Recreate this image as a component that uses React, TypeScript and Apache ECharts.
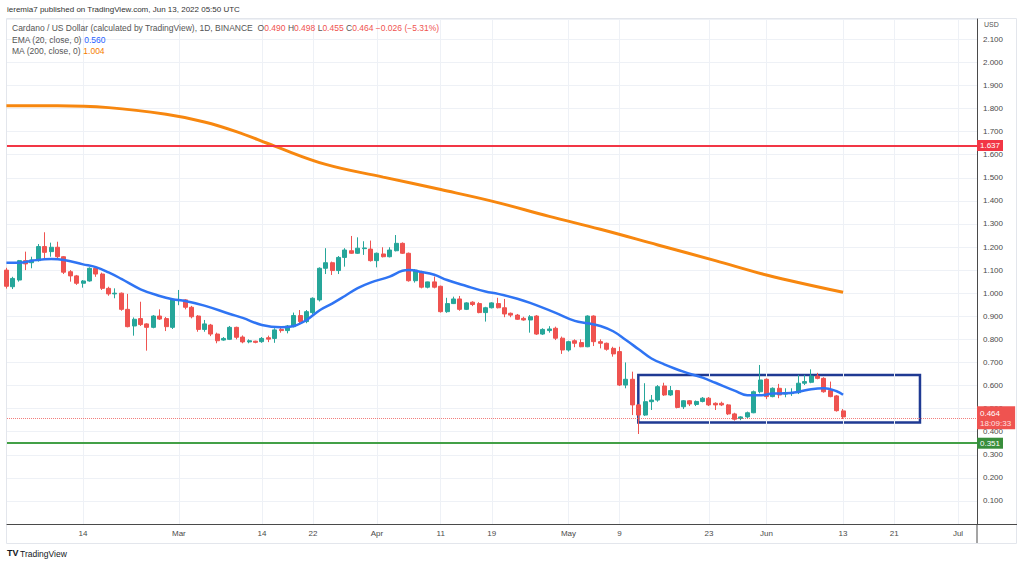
import React, { useEffect, useRef } from 'react';
import * as echarts from 'echarts';

// Day index 0 = 2022-02-02 (daily candles, Cardano / USD)
// Each row: [open, close, low, high]
const candles: number[][] = [
  [1.100, 1.030, 1.020, 1.110], [1.028, 1.064, 1.018, 1.071], [1.057, 1.141, 1.050, 1.144], [1.141, 1.127, 1.100, 1.180],
  [1.132, 1.144, 1.108, 1.158], [1.141, 1.202, 1.137, 1.213], [1.202, 1.177, 1.151, 1.264], [1.180, 1.199, 1.158, 1.219],
  [1.199, 1.158, 1.151, 1.223], [1.158, 1.091, 1.083, 1.161], [1.093, 1.075, 1.050, 1.100], [1.075, 1.043, 1.036, 1.079],
  [1.043, 1.053, 1.024, 1.057], [1.053, 1.108, 1.050, 1.112], [1.108, 1.083, 1.071, 1.115], [1.083, 1.021, 1.014, 1.089],
  [1.021, 0.997, 0.989, 1.028], [0.997, 1.000, 0.978, 1.021], [1.000, 0.930, 0.924, 1.003], [0.930, 0.855, 0.852, 0.997],
  [0.858, 0.887, 0.816, 0.895], [0.890, 0.864, 0.858, 0.963], [0.867, 0.852, 0.751, 0.870], [0.852, 0.901, 0.848, 0.905],
  [0.901, 0.888, 0.884, 0.930], [0.890, 0.855, 0.836, 0.897], [0.852, 0.971, 0.845, 0.978], [0.968, 0.972, 0.948, 1.014],
  [0.971, 0.939, 0.930, 0.974], [0.939, 0.898, 0.891, 0.945], [0.901, 0.843, 0.833, 0.905], [0.843, 0.867, 0.833, 0.884],
  [0.862, 0.823, 0.814, 0.867], [0.823, 0.794, 0.783, 0.829], [0.797, 0.804, 0.794, 0.810], [0.800, 0.852, 0.797, 0.858],
  [0.852, 0.809, 0.800, 0.855], [0.810, 0.789, 0.783, 0.817], [0.789, 0.794, 0.783, 0.800], [0.792, 0.787, 0.783, 0.794],
  [0.790, 0.804, 0.785, 0.810], [0.807, 0.801, 0.788, 0.816], [0.804, 0.841, 0.785, 0.848], [0.843, 0.838, 0.829, 0.855],
  [0.838, 0.858, 0.826, 0.862], [0.855, 0.903, 0.852, 0.916], [0.903, 0.877, 0.870, 0.927], [0.877, 0.920, 0.870, 0.927],
  [0.916, 0.978, 0.910, 0.982], [0.971, 1.108, 0.964, 1.112], [1.108, 1.132, 1.083, 1.195], [1.132, 1.098, 1.079, 1.137],
  [1.098, 1.155, 1.083, 1.161], [1.155, 1.187, 1.115, 1.195], [1.184, 1.173, 1.170, 1.248], [1.173, 1.195, 1.170, 1.242],
  [1.193, 1.196, 1.166, 1.225], [1.191, 1.141, 1.137, 1.228], [1.141, 1.173, 1.112, 1.176], [1.170, 1.158, 1.155, 1.199],
  [1.158, 1.187, 1.155, 1.199], [1.184, 1.216, 1.181, 1.252], [1.216, 1.173, 1.170, 1.220], [1.173, 1.054, 1.050, 1.176],
  [1.054, 1.100, 1.046, 1.104], [1.089, 1.026, 1.021, 1.097], [1.026, 1.049, 1.021, 1.050], [1.049, 1.026, 1.021, 1.072],
  [1.030, 0.920, 0.916, 1.033], [0.920, 0.955, 0.915, 0.980], [0.955, 0.975, 0.953, 0.985], [0.975, 0.930, 0.924, 0.988],
  [0.930, 0.958, 0.927, 0.961], [0.961, 0.951, 0.944, 0.965], [0.955, 0.916, 0.913, 0.961], [0.916, 0.937, 0.877, 0.941],
  [0.937, 0.958, 0.934, 0.961], [0.955, 0.937, 0.934, 0.980], [0.937, 0.910, 0.896, 0.975], [0.913, 0.905, 0.896, 0.916],
  [0.905, 0.887, 0.884, 0.910], [0.891, 0.884, 0.881, 0.898], [0.884, 0.898, 0.829, 0.905], [0.901, 0.823, 0.819, 0.905],
  [0.823, 0.843, 0.819, 0.848], [0.838, 0.845, 0.829, 0.857], [0.848, 0.805, 0.797, 0.855], [0.805, 0.754, 0.737, 0.812],
  [0.754, 0.790, 0.747, 0.794], [0.794, 0.783, 0.766, 0.800], [0.786, 0.768, 0.766, 0.800], [0.768, 0.901, 0.766, 0.904],
  [0.901, 0.790, 0.771, 0.904], [0.790, 0.783, 0.761, 0.800], [0.783, 0.757, 0.751, 0.786], [0.761, 0.737, 0.725, 0.768],
  [0.747, 0.602, 0.598, 0.768], [0.602, 0.627, 0.588, 0.700], [0.627, 0.516, 0.472, 0.660], [0.516, 0.472, 0.390, 0.520],
  [0.472, 0.530, 0.468, 0.610], [0.530, 0.537, 0.494, 0.559], [0.537, 0.595, 0.530, 0.602], [0.598, 0.559, 0.555, 0.612],
  [0.559, 0.578, 0.555, 0.598], [0.578, 0.505, 0.501, 0.581], [0.508, 0.534, 0.498, 0.537], [0.534, 0.520, 0.511, 0.537],
  [0.518, 0.531, 0.511, 0.535], [0.531, 0.545, 0.527, 0.550], [0.545, 0.516, 0.511, 0.550], [0.523, 0.516, 0.494, 0.527],
  [0.523, 0.516, 0.511, 0.530], [0.516, 0.477, 0.472, 0.520], [0.477, 0.454, 0.448, 0.482], [0.457, 0.464, 0.450, 0.467],
  [0.464, 0.482, 0.457, 0.487], [0.482, 0.573, 0.480, 0.578], [0.573, 0.624, 0.566, 0.689], [0.627, 0.552, 0.541, 0.631],
  [0.552, 0.588, 0.549, 0.592], [0.588, 0.559, 0.545, 0.607], [0.563, 0.569, 0.549, 0.588], [0.565, 0.569, 0.555, 0.588],
  [0.569, 0.610, 0.563, 0.646], [0.610, 0.617, 0.602, 0.646], [0.614, 0.641, 0.610, 0.670], [0.641, 0.631, 0.627, 0.655],
  [0.631, 0.573, 0.569, 0.636], [0.578, 0.552, 0.549, 0.617], [0.555, 0.491, 0.487, 0.559], [0.490, 0.464, 0.455, 0.498],
];

// EMA(20) readings: [day, value]
const emaPoints: number[][] = [
  [0, 1.132], [2, 1.132], [4, 1.141], [7, 1.148], [9, 1.144], [12, 1.125], [14, 1.113], [16, 1.090], [18, 1.062],
  [21, 1.017], [24, 0.988], [26, 0.974], [28, 0.966], [31, 0.946], [35, 0.910], [37, 0.893], [40, 0.862], [43, 0.852],
  [45, 0.858], [47, 0.884], [49, 0.925], [51, 0.955], [53, 0.988], [55, 1.022], [57, 1.046], [60, 1.072], [62, 1.097],
  [63, 1.100], [65, 1.092], [67, 1.080], [69, 1.057], [72, 1.031], [75, 1.007], [77, 0.997], [80, 0.976], [82, 0.958],
  [86, 0.915], [89, 0.880], [91, 0.870], [93, 0.858], [95, 0.835], [97, 0.797], [99, 0.757], [101, 0.717], [103, 0.692],
  [106, 0.660], [109, 0.634], [111, 0.612], [114, 0.578], [116, 0.558], [118, 0.558], [120, 0.565], [122, 0.566],
  [124, 0.573], [126, 0.584], [128, 0.588], [130, 0.575], [131, 0.560],
];

// MA(200) readings: [day, value]
const maPoints: number[][] = [
  [0, 1.812], [8, 1.812], [16, 1.804], [25, 1.775], [31, 1.742], [36, 1.700], [42, 1.637], [50, 1.558], [59, 1.503],
  [68, 1.449], [76, 1.399], [85, 1.333], [93, 1.277], [102, 1.209], [111, 1.141], [119, 1.079], [131, 1.004],
];

const xTickDays = [12, 27, 40, 48, 58, 68, 76, 88, 96, 110, 119, 131, 139, 149];
const xTickLabels = ['14', 'Mar', '14', '22', 'Apr', '11', '19', 'May', '9', '23', 'Jun', '13', '21', 'Jul'];

const resistanceLevel = 1.637;
const supportLevel = 0.351;
const lastPrice = 0.464;
const countdown = '18:09:33';
const rangeBoxDays = [98.94, 143.04];
const rangeBoxPrices = [0.4398, 0.6456];

const FONT = '"Liberation Sans", Arial, sans-serif';
const UP = '#26a69a';
const DOWN = '#ef5350';
const LEG = 8.5;

export default function App() {
  const ref = useRef<HTMLDivElement>(null);

  useEffect(() => {
    document.body.style.margin = '0';
    if (!ref.current) return;
    const chart = echarts.init(ref.current, undefined, { renderer: 'svg' });

    const candleData = candles.map((c, i) => [i, c[0], c[1], c[2], c[3]]);

    const option: any = {
      animation: false,
      backgroundColor: '#ffffff',
      textStyle: { fontFamily: FONT },
      grid: { left: 7, right: 47, top: 19, bottom: 42 },
      xAxis: {
        type: 'value',
        min: 0.09,
        max: 151.97,
        axisLine: { show: true, onZero: false, lineStyle: { color: '#4a4a4a', width: 1 } },
        axisTick: { show: false },
        splitLine: { show: false },
        axisLabel: {
          customValues: xTickDays,
          formatter: (v: number) => {
            const i = xTickDays.indexOf(Math.round(v));
            return i >= 0 ? xTickLabels[i] : '';
          },
          color: '#4a4a4a',
          fontSize: 8,
          fontFamily: FONT,
          margin: 5,
        },
      },
      yAxis: {
        type: 'value',
        position: 'right',
        min: 0,
        max: 2.188,
        interval: 0.1,
        axisLine: { show: true, onZero: false, lineStyle: { color: '#4a4a4a', width: 1 } },
        axisTick: { show: false },
        axisLabel: {
          formatter: (v: number) => v.toFixed(3),
          showMinLabel: false,
          showMaxLabel: false,
          color: '#4a4a4a',
          fontSize: 8,
          fontFamily: FONT,
          margin: 6,
        },
        splitLine: { show: true, lineStyle: { color: '#eef1f6', width: 1 } },
      },
      series: [
        {
          name: 'MA (200, close, 0)',
          type: 'line',
          data: maPoints,
          smooth: 0.4,
          showSymbol: false,
          lineStyle: { color: '#f7870f', width: 3 },
          z: 3,
          markLine: {
            silent: true,
            symbol: ['none', 'none'],
            z: 1,
            label: { show: false },
            lineStyle: { color: '#eef1f6', width: 1, type: 'solid' },
            data: xTickDays.map((d) => ({ xAxis: d })),
          },
        },
        {
          name: 'Cardano / US Dollar',
          type: 'candlestick',
          data: candleData,
          encode: { x: 0, y: [1, 2, 3, 4] },
          barWidth: 4.5,
          clip: true,
          z: 2,
          itemStyle: {
            color: UP,
            color0: DOWN,
            borderColor: UP,
            borderColor0: DOWN,
            borderWidth: 1,
          },
          markArea: {
            silent: true,
            itemStyle: { color: 'rgba(0,0,0,0)', borderColor: '#1f3a93', borderWidth: 2.5 },
            data: [[
              { coord: [rangeBoxDays[0], rangeBoxPrices[1]] },
              { coord: [rangeBoxDays[1], rangeBoxPrices[0]] },
            ]],
          },
          markLine: {
            silent: true,
            symbol: ['none', 'none'],
            z: 6,
            data: [
              {
                yAxis: resistanceLevel,
                lineStyle: { color: '#f23645', width: 2, type: 'solid' },
                label: {
                  show: true, position: 'end', distance: 0,
                  formatter: resistanceLevel.toFixed(3),
                  color: '#ffffff', backgroundColor: '#f23645',
                  padding: [2, 3, 1, 3], fontSize: 8, fontFamily: FONT,
                },
              },
              {
                yAxis: supportLevel,
                lineStyle: { color: '#43a047', width: 2, type: 'solid' },
                label: {
                  show: true, position: 'end', distance: 0,
                  formatter: supportLevel.toFixed(3),
                  color: '#ffffff', backgroundColor: '#388e3c',
                  padding: [2, 3, 1, 3], fontSize: 8, fontFamily: FONT,
                },
              },
              {
                yAxis: lastPrice,
                lineStyle: { color: 'rgba(239,83,80,0.75)', width: 1, type: 'dotted' },
                label: {
                  show: true, position: 'end', distance: 0,
                  formatter: '{a|' + lastPrice.toFixed(3) + '}\n{b|' + countdown + '}',
                  backgroundColor: '#ef5350',
                  padding: [2, 4, 1, 3],
                  rich: {
                    a: { color: '#ffffff', fontSize: 8, fontFamily: FONT, lineHeight: 10 },
                    b: { color: '#ffe0e0', fontSize: 8, fontFamily: FONT, lineHeight: 10 },
                  },
                },
              },
            ],
          },
        },
        {
          name: 'EMA (20, close, 0)',
          type: 'line',
          data: emaPoints,
          smooth: 0.4,
          showSymbol: false,
          lineStyle: { color: '#2f74f3', width: 2.5 },
          z: 4,
        },
      ],
      graphic: [
        {
          type: 'rect', silent: true, z: -1,
          shape: { x: 6.5, y: 18.5, width: 1010, height: 525 },
          style: { fill: 'none', stroke: '#e3e6ec', lineWidth: 1 },
        },
        { type: 'line', silent: true, z: 50, shape: { x1: 977, y1: 524, x2: 977, y2: 543 }, style: { stroke: '#4a4a4a', lineWidth: 1 } },
        { type: 'line', silent: true, z: 50, shape: { x1: 977, y1: 524.5, x2: 1017, y2: 524.5 }, style: { stroke: '#4a4a4a', lineWidth: 1 } },
        {
          type: 'text', x: 7, y: 5, z: 100,
          style: { text: 'ieremia7 published on TradingView.com, Jun 13, 2022 05:50 UTC', fill: '#333333', fontSize: 8, fontFamily: FONT },
        },
        {
          type: 'text', x: 12, y: 23, z: 100,
          style: {
            text: '{g|Cardano / US Dollar (calculated by TradingView), 1D, BINANCE  O}{r|0.490}{g| H}{r|0.498}{g| L}{r|0.455}{g| C}{r|0.464 −0.026 (−5.31%)}',
            fontSize: LEG, fontFamily: FONT,
            rich: {
              g: { fill: '#555555', fontSize: LEG, fontFamily: FONT },
              r: { fill: '#ef5350', fontSize: LEG, fontFamily: FONT },
            },
          },
        },
        {
          type: 'text', x: 12, y: 35, z: 100,
          style: {
            text: '{g|EMA (20, close, 0) }{b|0.560}',
            fontSize: LEG, fontFamily: FONT,
            rich: {
              g: { fill: '#555555', fontSize: LEG, fontFamily: FONT },
              b: { fill: '#2962ff', fontSize: LEG, fontFamily: FONT },
            },
          },
        },
        {
          type: 'text', x: 12, y: 46, z: 100,
          style: {
            text: '{g|MA (200, close, 0) }{o|1.004}',
            fontSize: LEG, fontFamily: FONT,
            rich: {
              g: { fill: '#555555', fontSize: LEG, fontFamily: FONT },
              o: { fill: '#f57c00', fontSize: LEG, fontFamily: FONT },
            },
          },
        },
        {
          type: 'text', x: 984, y: 21, z: 100,
          style: { text: 'USD', fill: '#555555', fontSize: 7, fontFamily: FONT },
        },
        {
          type: 'text', x: 7, y: 548, z: 100,
          style: { text: 'TV', fill: '#131722', fontSize: 9, fontWeight: 'bold', fontFamily: FONT },
        },
        {
          type: 'text', x: 20, y: 549, z: 100,
          style: { text: 'TradingView', fill: '#131722', fontSize: 8.5, fontFamily: FONT },
        },
      ],
    };

    chart.setOption(option);
    return () => chart.dispose();
  }, []);

  return <div ref={ref} style={{ width: 1024, height: 566 }} />;
}
